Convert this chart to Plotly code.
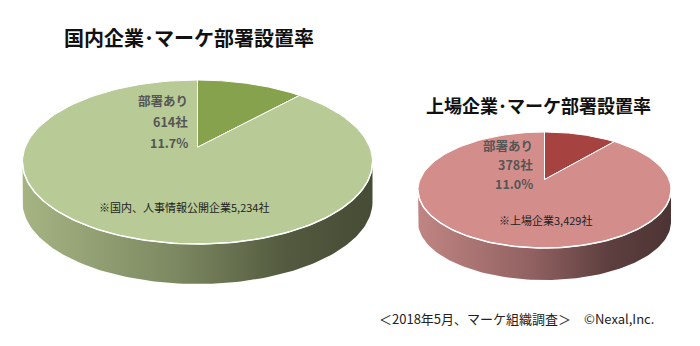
import math
import plotly.graph_objects as go

# Survey data: companies with a marketing department vs. the surveyed total
groups = ["国内企業･マーケ部署設置率", "上場企業･マーケ部署設置率"]
with_dept = [614, 378]
totals = [5234, 3429]
total_notes = ["※国内、人事情報公開企業", "※上場企業"]
slice_label = "部署あり"
source_note = "＜2018年5月、マーケ組織調査＞　©Nexal,Inc."

# Styling for each 3D pie
palettes = [
    dict(main="#86a24c", rest="#b8ca95",
         side=[[0, "#a6b483"], [0.45, "#7b8760"], [0.75, "#535a3f"], [1, "#464c35"]]),
    dict(main="#a6423f", rest="#d38e8c",
         side=[[0, "#c08583"], [0.45, "#916161"], [0.75, "#5e3f3f"], [1, "#4d3434"]]),
]
# Pie placement in page pixels: centre x, centre y, half-width, half-height, side depth
geoms = [
    dict(cx=197.5, cy=162, a=175, b=82, depth=40),
    dict(cx=544.5, cy=190, a=126.5, b=58, depth=32),
]
PERSP = 0.18
FONT = "Noto Sans CJK JP"


def project_xy(X, Y, g):
    """Map a point of the unit pie disc (Y toward the back) to page pixels."""
    k = PERSP
    s = 1.0 / (1.0 + k * Y)
    px, py = X * s, Y * s
    top, bot = 1 / (1 + k), -1 / (1 - k)
    mid, half = (top + bot) / 2, (top - bot) / 2
    xmax = 1 / math.sqrt(1 - k * k)
    return g["cx"] + g["a"] * px / xmax, g["cy"] - g["b"] * (py - mid) / half


def project(theta, g):
    """Rim point at angle theta (0 = top, clockwise)."""
    return project_xy(math.sin(theta), math.cos(theta), g)


def arc(t0, t1, g, n=120):
    pts = [project(t0 + (t1 - t0) * i / n, g) for i in range(n + 1)]
    return [p[0] for p in pts], [p[1] for p in pts]


fig = go.Figure()

for gi, (g, pal) in enumerate(zip(geoms, palettes)):
    share = with_dept[gi] / totals[gi]
    # visible front wall of the cylinder
    tl = math.acos(-PERSP)
    tr = 2 * math.pi - tl
    xs, ys = arc(tl, tr, g)
    side_x = xs + xs[::-1]
    side_y = ys + [y + g["depth"] for y in ys[::-1]]
    fig.add_trace(go.Scatter(
        x=side_x, y=side_y, mode="lines", fill="toself",
        line=dict(width=0, color="rgba(0,0,0,0)"),
        fillgradient=dict(type="horizontal", colorscale=pal["side"]),
        hoverinfo="skip", showlegend=False))

    apex = project_xy(0.0, 0.0, g)
    # top faces of the two slices
    bounds = [(0, 2 * math.pi * share, pal["main"]),
              (2 * math.pi * share, 2 * math.pi, pal["rest"])]
    for t0, t1, col in bounds:
        ax_, ay_ = arc(t0, t1, g)
        fig.add_trace(go.Scatter(
            x=[apex[0]] + ax_ + [apex[0]], y=[apex[1]] + ay_ + [apex[1]],
            mode="lines", fill="toself", fillcolor=col,
            line=dict(color="white", width=1),
            hoverinfo="skip", showlegend=False))
    # highlight along the front rim of the top face
    hx, hy = arc(tl, tr, g)
    fig.add_trace(go.Scatter(x=hx, y=hy, mode="lines",
                             line=dict(color="white", width=1.5),
                             hoverinfo="skip", showlegend=False))

# Slice labels
label_pos = [(190, 100, 21), (535, 145, 19)]
for gi, (lx, ly, step) in enumerate(label_pos):
    pct = with_dept[gi] / totals[gi] * 100
    lines = [slice_label, f"{with_dept[gi]}社", f"{pct:.1f}%"]
    for li, txt in enumerate(lines):
        fig.add_annotation(x=lx, y=ly + li * step, text=txt, showarrow=False,
                           xanchor="right", yanchor="middle",
                           font=dict(family=FONT, size=12.5, color="#555555",
                                     weight="bold"))

# Totals inside the pies
note_pos = [(184, 207), (545, 220)]
for gi, (nx, ny) in enumerate(note_pos):
    fig.add_annotation(x=nx, y=ny, text=f"{total_notes[gi]}{totals[gi]:,}社",
                       showarrow=False, xanchor="center", yanchor="middle",
                       font=dict(family=FONT, size=11, color="#222222"))

# Titles
fig.add_annotation(x=189, y=37, text=groups[0], showarrow=False,
                   xanchor="center", yanchor="middle",
                   font=dict(family=FONT, size=20, color="#111111", weight="bold"))
fig.add_annotation(x=538, y=105, text=groups[1], showarrow=False,
                   xanchor="center", yanchor="middle",
                   font=dict(family=FONT, size=18, color="#111111", weight="bold"))

# Source line
fig.add_annotation(x=516, y=318, text=source_note, showarrow=False,
                   xanchor="center", yanchor="middle",
                   font=dict(family=FONT, size=13, color="#222222"))

fig.update_layout(
    width=700, height=346,
    margin=dict(l=0, r=0, t=0, b=0),
    paper_bgcolor="white", plot_bgcolor="white",
    xaxis=dict(range=[0, 700], visible=False, fixedrange=True),
    yaxis=dict(range=[346, 0], visible=False, fixedrange=True),
)

fig.write_html("out.html")
